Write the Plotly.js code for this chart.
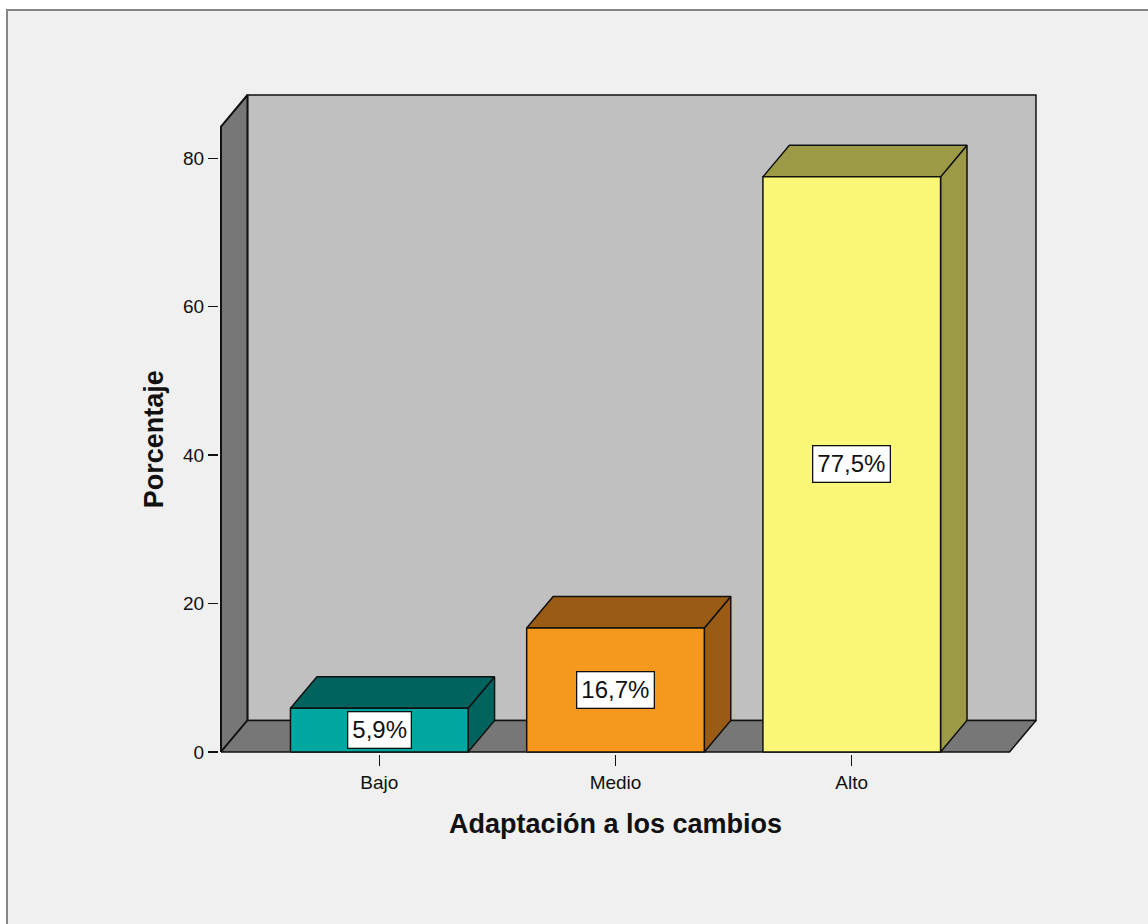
<!DOCTYPE html>
<html><head><meta charset="utf-8">
<script src="https://cdn.plot.ly/plotly-3.0.1.min.js"></script>
<style>
html,body{margin:0;padding:0;background:#fff;width:1148px;height:924px;overflow:hidden;}
#frame{position:absolute;left:6px;top:9px;width:1160px;height:930px;background:#f0f0f0;border-left:2px solid #868686;border-top:2px solid #868686;}
#chart{position:absolute;left:0;top:0;width:1148px;height:924px;}
</style></head><body>
<div id="frame"></div><div id="chart"></div>
<script>
// ---- data ----
const categories = ['Bajo', 'Medio', 'Alto'];
const percentages = [5.9, 16.7, 77.5];
const valueLabels = ['5,9%', '16,7%', '77,5%'];
const yTickValues = [0, 20, 40, 60, 80];
const yTickLabels = ['0', '20', '40', '60', '80'];
const xTitle = 'Adaptación a los cambios';
const yTitle = 'Porcentaje';

// ---- style / geometry constants ----
const frontColors = ['#00a6a0', '#f7981e', '#faf677'];
const sideColors = ['#00635e', '#9a5b14', '#9c9a47'];
const X_MIN = -0.67, X_FRONT_MAX = 2.668;
const DX = 0.112, DY = 4.25;        // depth offset
const WALL_TOP = 84.28;             // front height of the walls
const HALF = 0.376;                 // half bar width
const EDGE = {color: '#111', width: 1.5};
const FONT = 'Liberation Sans, Arial, sans-serif';

function poly(xs, ys, color, edge) {
  return {type: 'scatter', mode: 'lines', x: xs.concat([xs[0]]), y: ys.concat([ys[0]]),
    fill: 'toself', fillcolor: color, line: edge || EDGE, hoverinfo: 'skip', showlegend: false};
}

const traces = [];
// back wall
traces.push(poly([X_MIN + DX, X_FRONT_MAX + DX, X_FRONT_MAX + DX, X_MIN + DX],
                 [DY, DY, WALL_TOP + DY, WALL_TOP + DY], '#c0c0c0'));
// left wall
traces.push(poly([X_MIN, X_MIN, X_MIN + DX, X_MIN + DX],
                 [0, WALL_TOP, WALL_TOP + DY, DY], '#777777', {color: '#111', width: 2}));
// floor
traces.push(poly([X_MIN, X_FRONT_MAX, X_FRONT_MAX + DX, X_MIN + DX],
                 [0, 0, DY, DY], '#777777'));
// bars
percentages.forEach((v, i) => {
  const l = i - HALF, r = i + HALF;
  traces.push(poly([r, r + DX, r + DX, r], [0, DY, v + DY, v], sideColors[i]));   // side
  traces.push(poly([l, r, r + DX, l + DX], [v, v, v + DY, v + DY], sideColors[i])); // top
  traces.push(poly([l, r, r, l], [0, 0, v, v], frontColors[i]));                   // front
});

const annotations = percentages.map((v, i) => ({
  x: i, y: v / 2, xref: 'x', yref: 'y', text: valueLabels[i], showarrow: false,
  font: {family: FONT, size: 24, color: '#111'},
  bgcolor: '#ffffff', bordercolor: '#111', borderwidth: 1.3, borderpad: 4
}));
annotations.push({
  x: (X_MIN + X_FRONT_MAX) / 2, xref: 'x', y: 0, yref: 'paper', yanchor: 'middle', yshift: -70,
  text: xTitle, showarrow: false, font: {family: FONT, size: 27, weight: 'bold', color: '#111'}
});
annotations.push({
  x: 0, xref: 'paper', xanchor: 'center', xshift: -65, y: WALL_TOP / 2, yref: 'y',
  text: yTitle, textangle: -90, showarrow: false,
  font: {family: FONT, size: 27, weight: 'bold', color: '#111'}
});

const layout = {
  width: 1148, height: 924,
  margin: {l: 219, r: 110, t: 93, b: 170, pad: 0},
  paper_bgcolor: 'rgba(0,0,0,0)', plot_bgcolor: 'rgba(0,0,0,0)',
  showlegend: false,
  xaxis: {range: [-0.6785, 2.7885], tickvals: [0, 1, 2], ticktext: categories,
    showgrid: false, zeroline: false, showline: false, ticks: 'outside', ticklen: 11,
    tickwidth: 1.5, tickcolor: '#111', tickfont: {family: FONT, size: 19, color: '#111'},
    fixedrange: true},
  yaxis: {range: [-0.27, 88.8], tickvals: yTickValues, ticktext: yTickLabels,
    showgrid: false, zeroline: false, showline: false, ticks: 'outside', ticklen: 10,
    tickwidth: 1.5, tickcolor: '#111', tickfont: {family: FONT, size: 19, color: '#111'},
    fixedrange: true},
  annotations: annotations
};
Plotly.newPlot('chart', traces, layout, {displayModeBar: false, staticPlot: true});
</script></body></html>
